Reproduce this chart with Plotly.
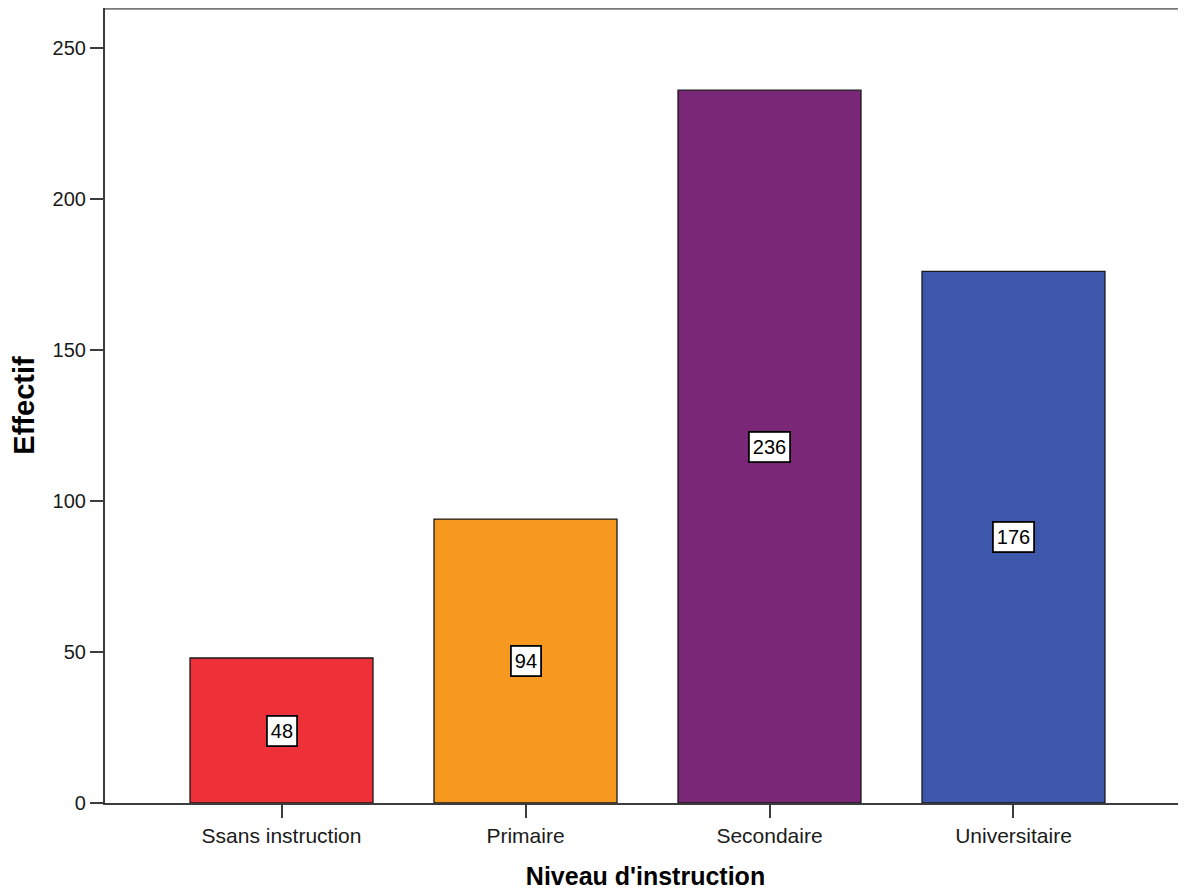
import plotly.graph_objects as go

categories = ["Ssans instruction", "Primaire", "Secondaire", "Universitaire"]
values = [48, 94, 236, 176]
colors = ["#EE3039", "#F7991E", "#7B2778", "#3D58AB"]
y_ticks = [0, 50, 100, 150, 200, 250]

FONT = "Liberation Sans, Arial, sans-serif"

fig = go.Figure()
fig.add_trace(go.Bar(
    x=categories, y=values, width=0.75,
    marker=dict(color=colors, line=dict(color="#1a1a1a", width=1.3)),
    hoverinfo="x+y",
))

for c, v in zip(categories, values):
    fig.add_annotation(
        x=c, y=v / 2, xref="x", yref="y", text=str(v), showarrow=False,
        font=dict(family=FONT, size=20, color="black"),
        bgcolor="white", bordercolor="black", borderwidth=1.8, borderpad=3,
    )

fig.add_shape(type="line", xref="paper", yref="paper", x0=0, x1=1, y0=1, y1=1,
              line=dict(color="#7a7a7a", width=3.5))

fig.update_layout(
    width=1178, height=882,
    margin=dict(l=97, r=0, t=0, b=87),
    plot_bgcolor="white", paper_bgcolor="white",
    showlegend=False,
    font=dict(family=FONT, color="black"),
    xaxis=dict(
        range=[-0.7234, 3.707],
        showline=True, linecolor="#3c3c3c", linewidth=2.2,
        ticks="outside", ticklen=13, tickwidth=2, tickcolor="#3c3c3c",
        tickfont=dict(family=FONT, size=21, color="#1a1a1a"),
        showgrid=False, zeroline=False,
        title=dict(text="<b>Niveau d'instruction</b>", font=dict(family=FONT, size=25, color="black"), standoff=22),
    ),
    yaxis=dict(
        range=[0, 263.2],
        tickvals=y_ticks,
        showline=True, linecolor="#3c3c3c", linewidth=2.2,
        ticks="outside", ticklen=13, tickwidth=2, tickcolor="#3c3c3c",
        tickfont=dict(family=FONT, size=20, color="#1a1a1a"),
        showgrid=False, zeroline=False,
        title=dict(text="<b>Effectif</b>", font=dict(family=FONT, size=29, color="black"), standoff=18),
    ),
)

fig.write_html("out.html")
